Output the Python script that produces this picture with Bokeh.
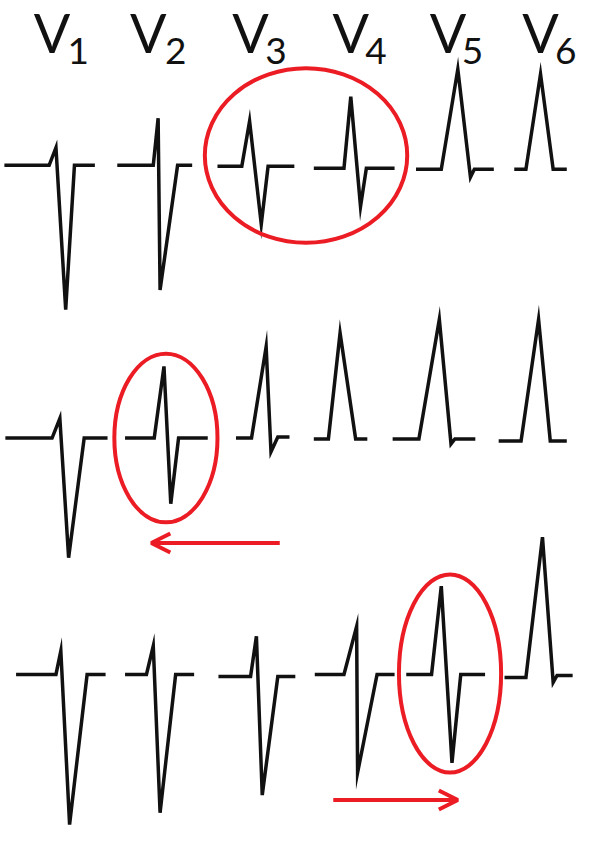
from bokeh.plotting import figure
from bokeh.models import Range1d, Arrow, OpenHead, ColumnDataSource
from bokeh.core.properties import value
from bokeh.embed import file_html
from bokeh.resources import INLINE

# ---- data: lead labels ----
lead_letter = ["V", "V", "V", "V", "V", "V"]
lead_num = ["1", "2", "3", "4", "5", "6"]
letter_x = [53, 152, 257, 360, 460, 555]
num_x = [80, 180, 283, 386, 485, 581]

# ---- data: QRS complexes (vertex x / y), three rows of six precordial leads ----
row1_x = [[4, 50, 57, 67, 76, 97],
          [120, 157, 162, 164, 182, 197],
          [223, 248, 256, 268, 275, 302],
          [322, 353, 360, 370, 376, 405],
          [427, 453, 470, 483, 487, 507],
          [528, 540, 555, 568, 582]]
row1_y = [[168, 168, 150, 315, 168, 168],
          [168, 168, 120, 295, 168, 168],
          [169, 169, 123, 228, 169, 169],
          [171, 171, 98, 210, 171, 171],
          [172, 172, 70, 180, 172, 172],
          [172, 172, 75, 172, 172]]

row2_x = [[5, 53, 61, 70, 86, 110],
          [128, 158, 168, 175, 183, 213],
          [242, 258, 273, 278, 285, 297],
          [322, 337, 349, 365, 377],
          [403, 430, 451, 463, 467, 488],
          [512, 535, 553, 565, 582]]
row2_y = [[446, 446, 426, 568, 446, 446],
          [446, 446, 373, 513, 446, 446],
          [446, 446, 353, 460, 445, 445],
          [447, 447, 339, 447, 447],
          [447, 447, 325, 452, 447, 447],
          [449, 449, 325, 449, 449]]

row3_x = [[16, 57, 62, 71, 89, 108],
          [128, 150, 157, 164, 180, 199],
          [224, 257, 263, 269, 285, 303],
          [323, 353, 366, 367, 387, 405],
          [417, 443, 453, 464, 473, 498],
          [518, 540, 557, 568, 572, 588]]
row3_y = [[687, 687, 663, 840, 687, 687],
          [687, 687, 658, 828, 687, 687],
          [689, 689, 648, 810, 689, 689],
          [687, 687, 638, 787, 687, 687],
          [687, 687, 597, 777, 687, 687],
          [690, 690, 547, 695, 688, 688]]

# ---- data: highlight ellipses and arrows ----
ell_x = [314, 170, 462]
ell_y = [158, 446, 686]
ell_w = [208, 106, 105]
ell_h = [178, 172, 202]

arrow_x0 = [287, 342]
arrow_x1 = [155, 470]
arrow_y = [553, 815]

RED = "#ec1c24"
INK = "#111111"

p = figure(width=577, height=828, output_backend="svg", toolbar_location=None,
           x_range=Range1d(0, 593), y_range=Range1d(844, 0),
           x_axis_location=None, y_axis_location=None, min_border=0)
p.grid.visible = False
p.outline_line_color = None
p.background_fill_color = "white"

xs = row1_x + row2_x + row3_x
ys = row1_y + row2_y + row3_y
p.multi_line(xs=xs, ys=ys, line_color=INK, line_width=3.5, line_join="miter")

p.ellipse(x=ell_x, y=ell_y, width=ell_w, height=ell_h, fill_color=None,
          line_color=RED, line_width=4)

for x0, x1, y in zip(arrow_x0, arrow_x1, arrow_y):
    p.add_layout(Arrow(end=OpenHead(size=19, line_color=RED, line_width=4),
                       x_start=x0, y_start=y, x_end=x1, y_end=y,
                       line_color=RED, line_width=4))

src_l = ColumnDataSource(dict(x=letter_x, y=[33] * 6, t=lead_letter))
src_n = ColumnDataSource(dict(x=num_x, y=[51] * 6, t=lead_num))
p.text(x="x", y="y", text="t", source=src_l, text_align="center",
       text_baseline="alphabetic", text_font=value("Lato"),
       text_font_size="54px", text_color=INK)
p.text(x="x", y="y", text="t", source=src_n, text_align="center",
       text_baseline="alphabetic", text_font=value("Lato"),
       text_font_size="37px", text_color=INK)

open("out.html", "w").write(file_html(p, INLINE))
